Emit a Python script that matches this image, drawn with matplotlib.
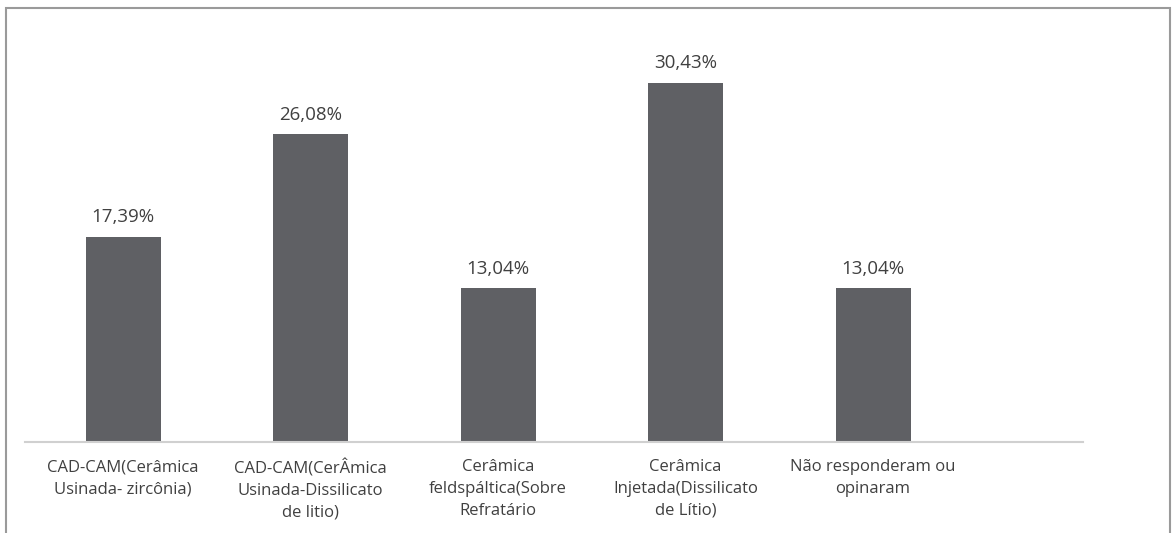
import matplotlib
matplotlib.use("Agg")
import matplotlib.pyplot as plt
from matplotlib.patches import Rectangle


categories = [
    "CAD-CAM(Cerâmica\nUsinada- zircônia)",
    "CAD-CAM(CerÂmica\nUsinada-Dissilicato\nde litio)",
    "Cerâmica\nfeldspáltica(Sobre\nRefratário",
    "Cerâmica\nInjetada(Dissilicato\nde Lítio)",
    "Não responderam ou\nopinaram",
]
percent = [17.39, 26.08, 13.04, 30.43, 13.04]
labels = ["17,39%", "26,08%", "13,04%", "30,43%", "13,04%"]

W, H = 1176, 533
BAR = "#5f6064"
TXT = "#404040"

plt.rcParams["font.family"] = ["Open Sans", "DejaVu Sans"]

fig = plt.figure(figsize=(W / 100, H / 100), dpi=100)
fig.patches.append(Rectangle((6 / W, -0.1), (1170 - 6) / W, (H - 8) / H + 0.1,
                             transform=fig.transFigure, fill=False,
                             edgecolor="#9a9a9a", linewidth=1.5))

ax = fig.add_axes([25 / W, (H - 442) / H, (1083 - 25) / W, (442 - 20) / H])
x = range(len(categories))
ax.bar(x, percent, width=0.4, color=BAR, zorder=2)

for xi, v, lab in zip(x, percent, labels):
    ax.annotate(lab, (xi, v), xytext=(0, 14), textcoords="offset points",
                ha="center", va="center", fontsize=13.5, color=TXT)

ax.set_xlim(-0.523, 5.12)
ax.set_ylim(0, 35.76)
ax.set_xticks(list(x))
ax.set_xticklabels(categories, fontsize=12, color=TXT, linespacing=1.47,
                   va="top")
ax.tick_params(axis="x", length=0, pad=12.5)
ax.set_yticks([])
for s in ["top", "right", "left"]:
    ax.spines[s].set_visible(False)
ax.spines["bottom"].set_color("#d0d0d0")
ax.spines["bottom"].set_linewidth(1.5)

fig.savefig("out.png", dpi=100)
